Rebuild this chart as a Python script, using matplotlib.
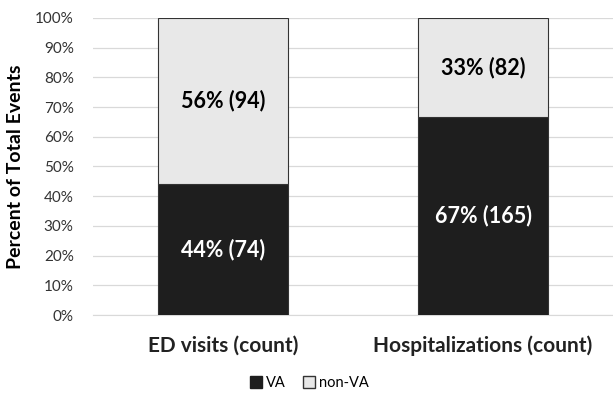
import numpy as np
import matplotlib.pyplot as plt
from matplotlib.patches import Patch

plt.rcParams['font.family'] = ['Lato', 'DejaVu Sans']

categories = ["ED visits (count)", "Hospitalizations (count)"]
va_counts = [74, 165]
non_va_counts = [94, 82]

va = np.array(va_counts, dtype=float)
non_va = np.array(non_va_counts, dtype=float)
total = va + non_va
va_pct = va / total * 100
non_va_pct = non_va / total * 100

fig = plt.figure(figsize=(6.13, 3.97), dpi=100)
ax = fig.add_axes([0.152, 0.2065, 0.848, 0.7485])

x = np.arange(len(categories))
width = 0.5
ax.bar(x, va_pct, width, color="#1e1e1e", edgecolor="#333333", linewidth=0.8, zorder=3, label="VA")
ax.bar(x, non_va_pct, width, bottom=va_pct, color="#e8e8e8", edgecolor="#333333",
       linewidth=0.8, zorder=3, label="non-VA")

for i in range(len(categories)):
    ax.text(x[i], va_pct[i] / 2, f"{va_pct[i]:.0f}% ({va_counts[i]})", ha="center", va="center",
            color="white", fontsize=15.5, fontweight="bold", zorder=4)
    ax.text(x[i], va_pct[i] + non_va_pct[i] / 2, f"{non_va_pct[i]:.0f}% ({non_va_counts[i]})",
            ha="center", va="center", color="black", fontsize=15.5, fontweight="bold", zorder=4)

ax.set_xlim(-0.5, 1.5)
ax.set_ylim(0, 100)
ax.set_yticks(np.arange(0, 101, 10))
ax.set_yticklabels([f"{v}%" for v in range(0, 101, 10)], fontsize=11, color="#333333")
ax.set_xticks(x)
ax.set_xticklabels(categories, fontsize=15, fontweight="bold", color="#222222")
ax.tick_params(axis="x", length=0, pad=15)
ax.tick_params(axis="y", length=0, pad=14)
ax.grid(axis="y", color="#d9d9d9", linewidth=0.9, zorder=0)
for s in ["top", "right", "left"]:
    ax.spines[s].set_visible(False)
ax.spines["bottom"].set_color("#d9d9d9")
ax.set_ylabel("Percent of Total Events", fontsize=14, fontweight="bold", labelpad=8)

handles = [Patch(facecolor="#1e1e1e", edgecolor="#1e1e1e", label="VA"),
           Patch(facecolor="#e8e8e8", edgecolor="#333333", label="non-VA")]
fig.legend(handles=handles, loc="center", bbox_to_anchor=(0.505, 0.035), ncol=2, frameon=False,
           fontsize=10.5, handlelength=0.8, handleheight=0.8, handletextpad=0.3, columnspacing=1.2)

fig.savefig("out.png", dpi=100)
